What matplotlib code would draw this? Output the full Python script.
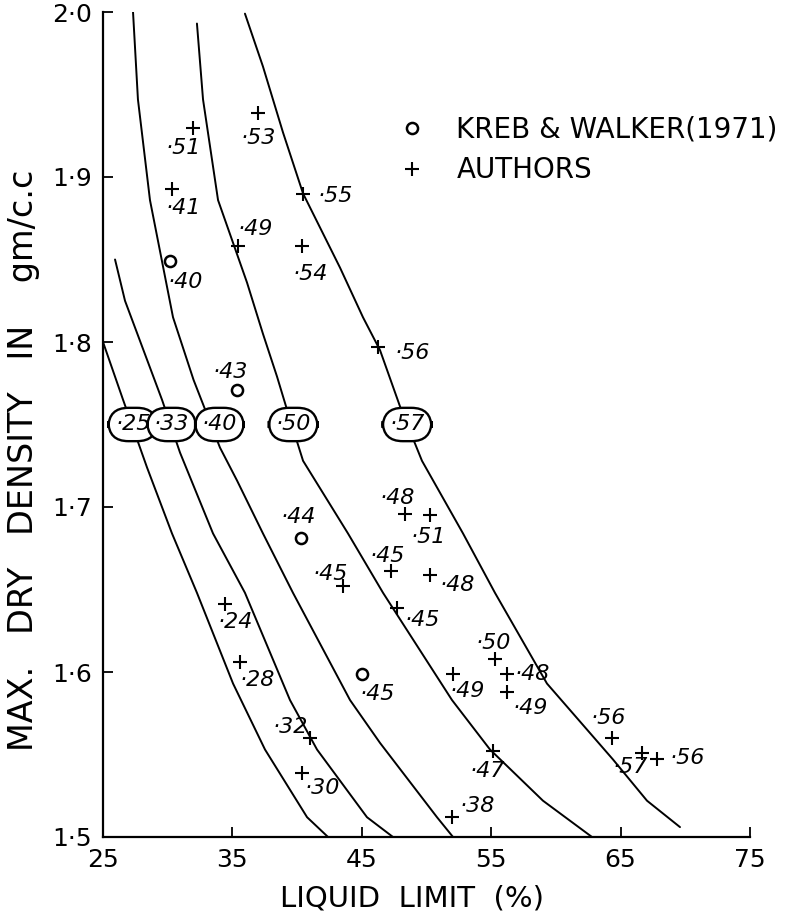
import matplotlib.pyplot as plt
import numpy as np

# compaction curves, labelled with their value at 1.75 gm/cc
curve_labels = ['·25', '·33', '·40', '·50', '·57']
curve_label_x = [27.3, 30.3, 34.0, 39.7, 48.5]

curve_25_x = [25.0, 26.55, 28.40, 30.33, 32.26, 35.05, 37.52, 40.77, 42.39]
curve_25_y = [1.800, 1.765, 1.724, 1.684, 1.648, 1.593, 1.553, 1.512, 1.500]

curve_33_x = [25.93, 26.70, 29.56, 30.95, 33.50, 35.97, 39.45, 41.54, 45.40, 47.41]
curve_33_y = [1.850, 1.825, 1.765, 1.733, 1.684, 1.648, 1.583, 1.553, 1.512, 1.500]

curve_40_x = [27.32, 27.70, 28.63, 30.41, 32.00, 34.04, 35.36, 37.36, 39.68, 44.09, 46.41, 50.81, 52.05]
curve_40_y = [2.000, 1.947, 1.886, 1.815, 1.777, 1.736, 1.716, 1.684, 1.648, 1.583, 1.557, 1.512, 1.500]

curve_50_x = [32.26, 32.73, 33.89, 36.13, 37.36, 38.45, 39.22, 40.46, 43.93, 46.64, 47.95, 51.97, 54.91, 59.00, 62.79]
curve_50_y = [1.993, 1.947, 1.886, 1.836, 1.805, 1.779, 1.759, 1.728, 1.684, 1.648, 1.632, 1.583, 1.553, 1.522, 1.500]

curve_57_x = [35.97, 37.36, 38.91, 40.46, 43.32, 45.09, 46.41, 47.95, 49.65, 52.82, 55.29, 59.31, 64.41, 67.04, 69.59]
curve_57_y = [1.999, 1.967, 1.927, 1.890, 1.845, 1.815, 1.795, 1.761, 1.728, 1.684, 1.648, 1.593, 1.547, 1.522, 1.506]

curves_x = [curve_25_x, curve_33_x, curve_40_x, curve_50_x, curve_57_x]
curves_y = [curve_25_y, curve_33_y, curve_40_y, curve_50_y, curve_57_y]

# authors' test points (+)
authors_x = [31.96, 36.98, 30.33, 35.43, 40.46, 40.38, 46.25, 48.34, 50.27, 47.26,
             50.27, 43.55, 47.72, 34.43, 35.59, 52.05, 55.29, 56.22, 56.22, 64.34,
             66.65, 67.81, 55.14, 51.97, 41.00, 40.38]
authors_y = [1.930, 1.939, 1.893, 1.858, 1.890, 1.858, 1.797, 1.696, 1.695, 1.661,
             1.659, 1.652, 1.639, 1.641, 1.606, 1.599, 1.608, 1.599, 1.588, 1.560,
             1.551, 1.547, 1.552, 1.512, 1.560, 1.539]
authors_lab = ['·51', '·53', '·41', '·49', '·55', '·54', '·56', '·48', '·51', '·45',
               '·48', '·45', '·45', '·24', '·28', '·49', '·50', '·48', '·49', '·56',
               '·57', '·56', '·47', '·38', '·32', '·30']

# Kreb & Walker (1971) points (o)
kreb_x = [30.18, 35.36, 40.30, 45.02]
kreb_y = [1.849, 1.771, 1.681, 1.599]
kreb_lab = ['·40', '·43', '·44', '·45']

# where the hand written value sits relative to its point (pixels, right/down)
authors_off = [(-10, 20), (0, 25), (11, 19), (17, -17), (32, 2), (8, 28), (34, 6),
               (-8, -16), (-2, 22), (-4, -15), (27, 10), (-13, -12), (25, 12),
               (10, 18), (17, 18), (14, 17), (-2, -16), (25, 0), (23, 16),
               (-4, -20), (-12, 14), (30, -1), (-6, 20), (25, -11), (-20, -11), (20, 15)]
kreb_off = [(15, 21), (-7, -18), (-3, -21), (15, 20)]

fig = plt.figure(figsize=(7.89, 9.19), dpi=100)
ax = fig.add_axes([103 / 789, 1 - 837 / 919, 647 / 789, 825 / 919])

for cx, cy in zip(curves_x, curves_y):
    ax.plot(cx, cy, color='black', lw=1.4, zorder=2, solid_capstyle='round')

for lab, lx in zip(curve_labels, curve_label_x):
    ax.text(lx, 1.75, lab, fontsize=16, style='italic', ha='center', va='center', zorder=4,
            bbox=dict(boxstyle='round,pad=0.3,rounding_size=0.9', fc='white', ec='black', lw=1.7))

ax.plot(kreb_x, kreb_y, 'o', ms=8, mfc='none', mec='black', mew=1.8, zorder=3,
        label='KREB & WALKER(1971)')
ax.plot(authors_x, authors_y, '+', ms=10, mec='black', mew=1.5, zorder=3,
        label='AUTHORS')

for x, y, lab, (dx, dy) in zip(authors_x, authors_y, authors_lab, authors_off):
    ax.annotate(lab, (x, y), xytext=(dx, -dy), textcoords='offset pixels',
                fontsize=16, style='italic', ha='center', va='center')
for x, y, lab, (dx, dy) in zip(kreb_x, kreb_y, kreb_lab, kreb_off):
    ax.annotate(lab, (x, y), xytext=(dx, -dy), textcoords='offset pixels',
                fontsize=16, style='italic', ha='center', va='center')

ax.set_xlim(25, 75)
ax.set_ylim(1.5, 2.0)
ax.set_xticks([25, 35, 45, 55, 65, 75])
ax.set_yticks([1.5, 1.6, 1.7, 1.8, 1.9, 2.0])
ax.set_yticklabels(['1·5', '1·6', '1·7', '1·8', '1·9', '2·0'])
ax.tick_params(direction='in', length=7, width=1.3, labelsize=18, pad=8)
for s in ['top', 'right']:
    ax.spines[s].set_visible(False)
for s in ['left', 'bottom']:
    ax.spines[s].set_linewidth(1.6)

ax.set_xlabel('LIQUID  LIMIT  (%)', fontsize=21)
ax.set_ylabel('MAX.   DRY   DENSITY   IN    gm/c.c', fontsize=24)
ax.xaxis.set_label_coords(0.478, -0.057)
ax.yaxis.set_label_coords(-0.097, 0.457)

ax.legend(loc='upper left', bbox_to_anchor=(0.456, 0.874), frameon=False, fontsize=20,
          handlelength=1.0, handletextpad=1.1, borderaxespad=0, borderpad=0,
          labelspacing=0.45)

fig.savefig('out.png', dpi=100)
